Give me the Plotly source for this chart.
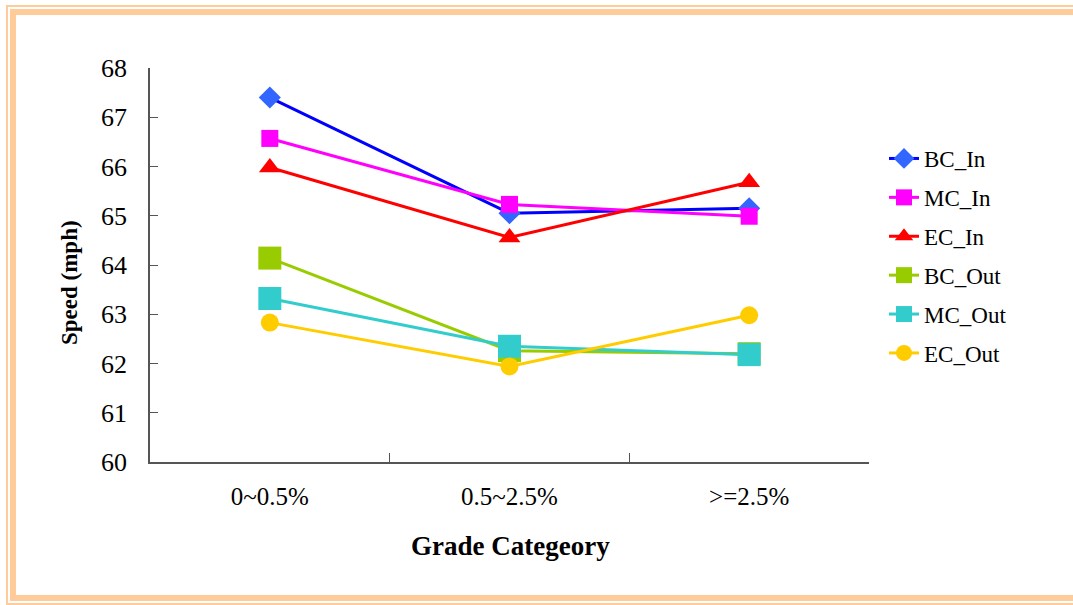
import plotly.graph_objects as go

categories = ["0~0.5%", "0.5~2.5%", ">=2.5%"]
bc_in = [67.40, 65.05, 65.15]
mc_in = [66.57, 65.23, 64.99]
ec_in = [65.98, 64.56, 65.68]
bc_out = [64.14, 62.26, 62.20]
mc_out = [63.32, 62.35, 62.18]
ec_out = [62.83, 61.94, 62.98]
y_ticks = [60, 61, 62, 63, 64, 65, 66, 67, 68]

series = [
    ("BC_In", bc_in, "#0000FF", "#3366FF", "diamond", 17),
    ("MC_In", mc_in, "#FF00FF", "#FF00FF", "square", 17),
    ("EC_In", ec_in, "#FF0000", "#FF0000", "triangle-up", 19),
    ("BC_Out", bc_out, "#99CC00", "#99CC00", "square", 23),
    ("MC_Out", mc_out, "#33CCCC", "#33CCCC", "square", 23),
    ("EC_Out", ec_out, "#FFCC00", "#FFCC00", "circle", 18),
]

W, H = 1073, 605
X0, X1, Y0, Y1 = 150, 869, 68, 462

def px(x):
    return (x - X0) / (X1 - X0)

def py(y):
    return (Y1 - y) / (Y1 - Y0)

fig = go.Figure()
for i, (name, vals, lc, mc, sym, sz) in enumerate(series):
    fig.add_trace(go.Scatter(
        x=categories, y=vals, name=name, mode="lines+markers",
        line=dict(color=lc, width=3),
        marker=dict(color=mc, symbol=sym, size=sz, line=dict(width=0)),
        legendgroup=name,
    ))

font_family = "Liberation Serif, Times New Roman, serif"
border = "#FFCC99"

fig.update_layout(
    width=W, height=H,
    margin=dict(l=X0, r=W - X1, t=Y0, b=H - Y1, autoexpand=False),
    paper_bgcolor="white", plot_bgcolor="white",
    font=dict(family=font_family, color="black", size=24),
    showlegend=True,
    legend=dict(
        x=px(884), y=py(137), xanchor="left", yanchor="top",
        font=dict(size=23, family=font_family),
        traceorder="grouped", tracegroupgap=6,
        bgcolor="rgba(0,0,0,0)", itemwidth=30,
    ),
    xaxis=dict(
        type="category", tickson="boundaries", ticks="inside", ticklen=9,
        tickcolor="#555", showline=True, linecolor="#555", linewidth=1.5,
        showgrid=False, zeroline=False, range=[-0.5, 2.5],
        tickfont=dict(size=25), ticklabelstandoff=11,
    ),
    yaxis=dict(
        range=[60, 68], tickvals=y_ticks, ticks="inside", ticklen=8,
        tickcolor="#555", showline=True, linecolor="#555", linewidth=1.5,
        showgrid=False, zeroline=False, tickfont=dict(size=26),
        ticklabelstandoff=16,
    ),
    annotations=[
        dict(text="<b>Grade Categeory</b>", x=px(510), y=py(546), xref="paper", yref="paper",
             showarrow=False, font=dict(size=27, family=font_family), xanchor="center", yanchor="middle"),
        dict(text="<b>Speed (mph)</b>", x=px(69), y=py(283), xref="paper", yref="paper",
             showarrow=False, textangle=-90, font=dict(size=23, family=font_family),
             xanchor="center", yanchor="middle"),
    ],
    shapes=[
        dict(type="rect", xref="paper", yref="paper", x0=px(7), x1=px(1110), y0=py(6), y1=py(604),
             line=dict(color=border, width=2), layer="below"),
        dict(type="rect", xref="paper", yref="paper", x0=px(13), x1=px(1110), y0=py(12), y1=py(598),
             line=dict(color=border, width=6), layer="below"),
    ],
)

fig.write_html("out.html", config={"displayModeBar": False},
               post_script="document.body.style.margin='0';document.body.style.overflow='hidden';")
